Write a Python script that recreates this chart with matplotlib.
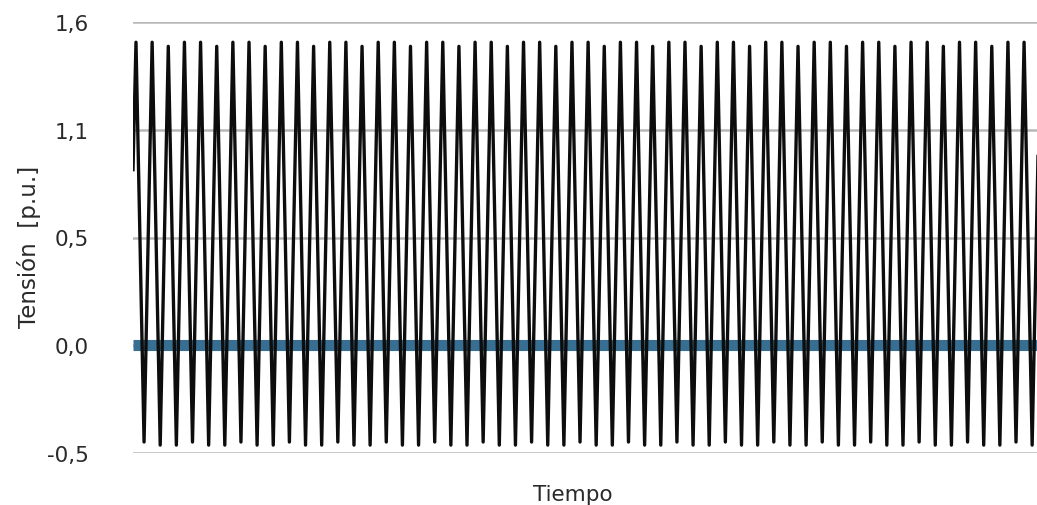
import numpy as np
import matplotlib.pyplot as plt

# Values (p.u.)
# first sample, then the crests and troughs of the waveform in order
start_value = 0.88

crests = [1.50, 1.50, 1.48, 1.50, 1.50, 1.48, 1.50, 1.50, 1.48, 1.50, 1.50, 1.48,
          1.50, 1.50, 1.48, 1.50, 1.50, 1.48, 1.50, 1.50, 1.48, 1.50, 1.50, 1.48,
          1.50, 1.50, 1.48, 1.50, 1.50, 1.48, 1.50, 1.50, 1.48, 1.50, 1.50, 1.48,
          1.50, 1.50, 1.48, 1.50, 1.50, 1.48, 1.50, 1.50, 1.48, 1.50, 1.50, 1.48,
          1.50, 1.50, 1.48, 1.50, 1.50, 1.48, 1.50, 1.50, 1.48]

troughs = [-0.445, -0.46, -0.46, -0.445, -0.46, -0.46, -0.445, -0.46, -0.46, -0.445,
           -0.46, -0.46, -0.445, -0.46, -0.46, -0.445, -0.46, -0.46, -0.445, -0.46,
           -0.46, -0.445, -0.46, -0.46, -0.445, -0.46, -0.46, -0.445, -0.46, -0.46,
           -0.445, -0.46, -0.46, -0.445, -0.46, -0.46, -0.445, -0.46, -0.46, -0.445,
           -0.46, -0.46, -0.445, -0.46, -0.46, -0.445, -0.46, -0.46, -0.445, -0.46,
           -0.46, -0.445, -0.46, -0.46, -0.445, -0.46]

# reference line at the "0,0" gridline
baseline = 0.025

ytick_values = [-0.5, 0.025, 0.55, 1.075, 1.6]
ytick_labels = ['-0,5', '0,0', '0,5', '1,1', '1,6']

# Build the waveform: crest, trough, crest, trough ...
wave = [start_value]
for i in range(len(crests)):
    wave.append(crests[i])
    if i < len(troughs):
        wave.append(troughs[i])

# time in half-cycles, first sample slightly before first crest
t = np.concatenate(([-0.37], np.arange(len(wave) - 1)))

fig = plt.figure(figsize=(10.37, 5.06), dpi=100)
ax = fig.add_axes([133 / 1037, (506 - 454.3) / 506, 1 - 133 / 1037, (454.3 - 22.7) / 506])

# Gridlines
for yv in ytick_values:
    ax.axhline(yv, color='#b8b8b8', linewidth=1.8, zorder=1)

ax.plot([t[0], t[-1]], [baseline, baseline], color='#376e91', linewidth=8, zorder=2,
        solid_capstyle='butt')
ax.plot(t, wave, color='#0d0d0d', linewidth=2.4, zorder=3)

ax.set_xlim(-0.37, 111.6)
ax.set_ylim(-0.5, 1.6)
ax.set_yticks(ytick_values)
ax.set_yticklabels(ytick_labels, fontsize=15.5, color='#2a2a2a')
ax.tick_params(axis='y', length=0, pad=32)
ax.set_xticks([])

for s in ax.spines.values():
    s.set_visible(False)

ax.set_xlabel('Tiempo', fontsize=15.5, color='#2a2a2a', labelpad=22, x=0.486)
ax.set_ylabel('Tensión  [p.u.]', fontsize=16.5, color='#2a2a2a', labelpad=4, y=0.48)

plt.savefig('out.png', dpi=100)
